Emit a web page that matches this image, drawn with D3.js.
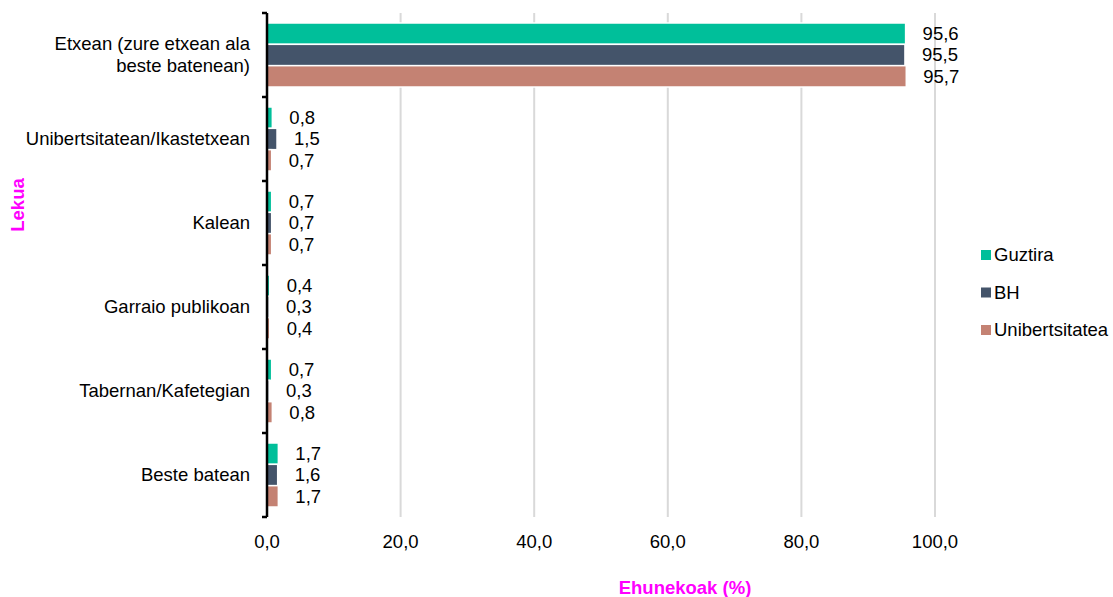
<!DOCTYPE html>
<html><head><meta charset="utf-8">
<script src="https://cdn.jsdelivr.net/npm/d3@7"></script>
<style>body{margin:0;background:#fff}svg{font-family:"Liberation Sans",Arial,sans-serif}</style>
</head><body><svg id="c" width="1113" height="597"></svg>
<script>
const categories = ["Etxean (zure etxean ala|beste batenean)","Unibertsitatean/Ikastetxean","Kalean","Garraio publikoan","Tabernan/Kafetegian","Beste batean"];
const seriesNames = ["Guztira","BH","Unibertsitatea"];
const guztira = [95.6,0.8,0.7,0.4,0.7,1.7];
const bh = [95.5,1.5,0.7,0.3,0.3,1.6];
const unib = [95.7,0.7,0.7,0.4,0.8,1.7];
const xTicks = [0,20,40,60,80,100];
const colors = ["#00BF9A","#44546A","#C48273"];

const FS = 18.5;
const values = [guztira, bh, unib];
const svg = d3.select("#c");
const x = d3.scaleLinear().domain([0,100]).range([267,935]);
const y = d3.scaleBand().domain(categories).range([13,517]).paddingInner(0).paddingOuter(0);
const inner = d3.scaleBand().domain(seriesNames).range([10, y.bandwidth()-10]).padding(0);

// gridlines
svg.append("g").selectAll("line").data(xTicks.filter(d=>d>0)).join("line")
  .attr("x1",d=>x(d)).attr("x2",d=>x(d)).attr("y1",13).attr("y2",517)
  .attr("stroke","#d9d9d9").attr("stroke-width",2);

// bars
categories.forEach((c,ci)=>{
  seriesNames.forEach((s,si)=>{
    const v = values[si][ci];
    const yy = y(c)+inner(s);
    svg.append("rect").attr("x",x(0)).attr("y",yy)
      .attr("width",x(v)-x(0)).attr("height",inner.bandwidth())
      .attr("fill",colors[si]).attr("stroke","#fff").attr("stroke-width",1.5);
    svg.append("text").attr("x",x(v)+17).attr("y",yy+inner.bandwidth()/2)
      .attr("dy","0.35em").attr("font-size",FS).attr("fill","#000")
      .text(v.toFixed(1).replace(".",","));
  });
});

// y axis line and ticks
const ax = svg.append("g");
ax.append("line").attr("x1",267).attr("x2",267).attr("y1",13).attr("y2",517).attr("stroke","#000").attr("stroke-width",2.5);
const bounds = categories.map(c=>y(c)).concat([y.range()[1]]);
ax.selectAll(".tk").data(bounds).join("line").attr("x1",262).attr("x2",267)
  .attr("y1",d=>d).attr("y2",d=>d).attr("stroke","#000").attr("stroke-width",2.5);

// category labels
categories.forEach(c=>{
  const lines = c.split("|");
  const cy = y(c)+y.bandwidth()/2;
  const t = svg.append("text").attr("text-anchor","end").attr("font-size",FS).attr("fill","#000");
  lines.forEach((l,i)=>{
    t.append("tspan").attr("x",250).attr("y",cy+(i-(lines.length-1)/2)*22).attr("dy","0.35em").text(l);
  });
});

// x tick labels
svg.append("g").selectAll("text").data(xTicks).join("text")
  .attr("x",d=>x(d)).attr("y",548).attr("text-anchor","middle").attr("font-size",FS).attr("fill","#000")
  .text(d=>d.toFixed(1).replace(".",","));

// axis titles
svg.append("text").attr("x",685).attr("y",594).attr("text-anchor","middle")
  .attr("font-size",FS).attr("font-weight","bold").attr("fill","#FF00FF").text("Ehunekoak (%)");
svg.append("text").attr("transform","translate(24,205) rotate(-90)").attr("text-anchor","middle")
  .attr("font-size",FS).attr("font-weight","bold").attr("fill","#FF00FF").text("Lekua");

// legend
const leg = svg.append("g");
seriesNames.forEach((s,i)=>{
  const ly = 255 + i*37.5;
  leg.append("rect").attr("x",981).attr("y",ly-5).attr("width",10).attr("height",10).attr("fill",colors[i]);
  leg.append("text").attr("x",994).attr("y",ly).attr("dy","0.35em").attr("font-size",FS).attr("fill","#000").text(s);
});
</script></body></html>
